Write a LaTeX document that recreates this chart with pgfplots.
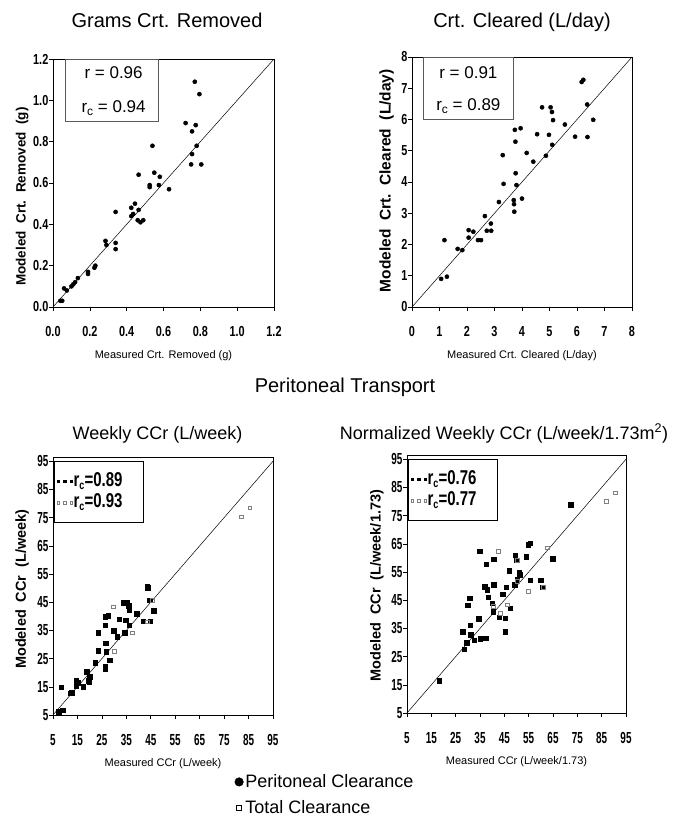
\documentclass[border=0pt]{standalone}
\usepackage{fontspec}
\setmainfont{Liberation Sans}
\newfontfamily\narrowfont[FakeStretch=0.75]{Liberation Sans}
\newfontfamily\narrowerfont[FakeStretch=0.62]{Liberation Sans}
\usepackage{pgfplots}
\pgfplotsset{compat=1.18}

\newcommand{\fs}[1]{\fontsize{#1}{#1}\selectfont}
\newcommand{\rc}{r\raisebox{-0.3ex}{\fs{12}c}}
\newcommand{\lent}[1]{\makebox[66pt][l]{#1}}

\pgfplotsset{
  panel/.style={
    scale only axis,
    clip=false,
    axis line style={black, line width=0.6pt},
    tick pos=left, tick align=outside,
    major tick length=4pt,
    every tick/.style={black, line width=0.6pt},
    /pgf/number format/assume math mode=true,
    ticklabel style={font=\narrowfont\bfseries\fs{14.5}},
    xticklabel style={yshift=-12pt},
    yticklabel style={inner xsep=0.5pt},
    title style={font=\fs{20}, anchor=base},
    xlabel style={font=\fs{11}, at={(axis description cs:0.5,0)}, anchor=base, yshift=-51pt},
    ylabel style={font=\bfseries\fs{14.5}, anchor=center},
  },
  lower/.style={
    panel,
    xmin=5, xmax=95, ymin=5, ymax=96.5,
    xtick={5,15,...,95}, ytick={5,15,...,95},
    ticklabel style={font=\narrowerfont\bfseries\fs{16}},
    xticklabel style={yshift=0pt},
    title style={font=\fs{18}},
    legend cell align=left,
    legend style={anchor=north west, draw=black, line width=0.8pt,
      font=\narrowfont\bfseries\fs{20}, inner xsep=3pt, inner ysep=11pt,
      row sep=3pt,
      nodes={inner xsep=1pt, inner ysep=1pt, text height=13pt, text depth=3pt}},
    legend image code/.code={%
      \draw[##1, mark size=1.3pt] plot coordinates {(0pt,0pt) (6.5pt,0pt) (13pt,0pt)};},
  },
  dots/.style={only marks, mark=*, mark size=2.1pt, black},
  fsq/.style={only marks, mark=square*, mark size=2.2pt, black},
  osq/.style={only marks, mark=square, mark size=1.9pt, gray, mark options={line width=0.5pt}},
  ident/.style={black, line width=0.5pt, forget plot},
}

\begin{document}
\begin{tikzpicture}
\useasboundingbox (0,0) rectangle (680pt,-820pt);

% ---- Grams Crt. Removed
\begin{axis}[panel,
  at={(53pt,-307pt)}, anchor=south west, width=221pt, height=248pt,
  xmin=0, xmax=1.2, ymin=0, ymax=1.2,
  xtick={0,0.2,...,1.2}, ytick={0,0.2,...,1.2},
  /pgf/number format/.cd, fixed, fixed zerofill, precision=1, /pgfplots/.cd,
  title={Grams Crt. Removed},
  title style={at={(axis description cs:0.516,1)}, yshift=26pt},
  xlabel={Measured Crt. Removed (g)},
  ylabel={Modeled\ \ Crt.\ \ Removed\ \ (g)},
  ylabel style={at={(axis description cs:-0.14,0.445)}, font=\bfseries\fs{13.5}},
]
\addplot[ident] coordinates {(0,0) (1.2,1.2)};
\addplot[dots] coordinates {
 (0.04,0.03) (0.05,0.03) (0.06,0.09) (0.075,0.08) (0.10,0.10) (0.11,0.11)
 (0.12,0.12) (0.135,0.14) (0.19,0.16) (0.19,0.17) (0.225,0.19) (0.23,0.20)
 (0.285,0.32) (0.29,0.30) (0.34,0.31) (0.34,0.28) (0.34,0.46) (0.425,0.44)
 (0.425,0.48) (0.435,0.45) (0.445,0.50) (0.465,0.47) (0.465,0.64) (0.46,0.42)
 (0.475,0.41) (0.49,0.42) (0.525,0.59) (0.525,0.58) (0.54,0.78) (0.55,0.65)
 (0.575,0.59) (0.58,0.63) (0.63,0.57) (0.72,0.89) (0.755,0.85) (0.775,0.88)
 (0.77,1.09) (0.795,1.03) (0.755,0.74) (0.78,0.78) (0.75,0.69) (0.805,0.69)
};
\draw[gray!70!black, line width=1pt] (axis cs:0.067,1.2) rectangle (axis cs:0.573,0.898);
\node[font=\fs{17}] at (axis cs:0.329,1.132) {r = 0.96};
\node[font=\fs{17}] at (axis cs:0.329,0.962) {\rc\ = 0.94};
\end{axis}

% ---- Crt. Cleared (L/day)
\begin{axis}[panel,
  at={(412pt,-307pt)}, anchor=south west, width=220pt, height=250pt,
  xmin=0, xmax=8, ymin=0, ymax=8,
  xtick={0,1,...,8}, ytick={0,1,...,8},
  title={Crt. Cleared (L/day)},
  title style={at={(axis description cs:0.5,1)}, yshift=24pt},
  xlabel={Measured Crt. Cleared (L/day)},
  ylabel={Modeled\ \ Crt.\ \ Cleared\ \ (L/day)},
  ylabel style={at={(axis description cs:-0.115,0.505)}, font=\bfseries\fs{15.5}},
]
\addplot[ident] coordinates {(0,0) (8,8)};
\addplot[dots] coordinates {
 (1.06,0.90) (1.18,2.14) (1.27,0.97) (1.66,1.86) (1.83,1.82) (2.06,2.46)
 (2.06,2.22) (2.23,2.41) (2.40,2.14) (2.51,2.14) (2.65,2.91) (2.72,2.44)
 (2.87,2.67) (2.88,2.44) (3.16,3.36) (3.30,4.86) (3.33,3.94) (3.70,3.42)
 (3.71,3.29) (3.72,3.05) (3.74,5.67) (3.76,5.29) (3.77,4.28) (3.80,3.90)
 (3.95,5.72) (4.00,3.47) (4.17,4.93) (4.41,4.65) (4.55,5.53) (4.73,6.39)
 (4.87,4.84) (4.98,5.51) (5.04,6.39) (5.09,6.24) (5.10,5.19) (5.13,5.98)
 (5.56,5.84) (5.93,5.45) (6.17,7.20) (6.23,7.27) (6.37,6.48) (6.38,5.44)
 (6.59,5.99)
};
\draw[gray!70!black, line width=1pt] (axis cs:0.40,7.97) rectangle (axis cs:3.70,5.99);
\node[font=\fs{17}] at (axis cs:2.05,7.49) {r = 0.91};
\node[font=\fs{17}] at (axis cs:2.05,6.42) {\rc\ = 0.89};
\end{axis}

\node[font=\fs{20}, anchor=base] at (345pt,-392pt) {Peritoneal Transport};

% ---- Weekly CCr (L/week)
\begin{axis}[lower,
  at={(53pt,-715pt)}, anchor=south west, width=220pt, height=258pt,
  title={Weekly CCr (L/week)},
  title style={at={(axis description cs:0.475,1)}, yshift=12pt},
  xlabel={Measured CCr (L/week)},
  ylabel={Modeled\ \ CCr\ \ (L/week)},
  ylabel style={at={(axis description cs:-0.14,0.488)}},
  legend style={at={(axis description cs:0.003,0.984)}},
]
\addplot[ident] coordinates {(5,5) (95,95)};
\addplot[fsq] coordinates {
 (7.3,6.2) (8.9,6.8) (8.3,14.8) (12.1,12.7) (12.6,12.9) (14.5,15.3)
 (14.5,17.2) (15.4,16.5) (17.3,15.0) (18.8,20.4) (19.6,17.2) (20.0,18.6)
 (19.9,16.8) (22.3,23.5) (23.4,27.8) (23.4,34.2) (26.4,22.1) (26.4,21.2)
 (26.4,36.9) (26.4,39.8) (26.5,30.4) (26.8,27.4) (27.6,40.2) (28.2,24.5)
 (29.8,34.9) (31.2,32.8) (32.1,38.9) (33.6,44.9) (34.3,34.2) (34.8,38.7)
 (35.4,45.0) (35.9,43.7) (36.1,42.2) (36.2,36.8) (39.2,41.0) (41.8,38.3)
 (43.5,50.7) (43.8,50.2) (44.6,45.7) (44.8,38.3) (46.2,42.0)
};
\addlegendentry{\lent{\rc=0.89}}
\addplot[osq] coordinates {
 (29.8,43.4) (30.2,27.6) (37.3,34.2) (43.5,38.1) (45.6,45.7) (81.9,75.3)
 (85.5,78.5)
};
\addlegendentry{\lent{\rc=0.93}}
\end{axis}

% ---- Normalized Weekly CCr (L/week/1.73m2)
\begin{axis}[lower,
  at={(407pt,-713pt)}, anchor=south west, width=219pt, height=258pt,
  title={Normalized Weekly CCr (L/week/1.73m\textsuperscript{2})},
  title style={at={(axis description cs:0.443,1)}, yshift=10pt},
  xlabel={Measured CCr (L/week/1.73)},
  ylabel={Modeled\ \ CCr\ \ (L/week/1.73)},
  ylabel style={at={(axis description cs:-0.137,0.493)}},
  legend style={at={(axis description cs:0.003,0.984)}},
]
\addplot[ident] coordinates {(5,5) (95,95)};
\addplot[fsq] coordinates {
 (18.2,16.5) (27.9,33.9) (28.6,27.6) (29.5,30.0) (30.0,43.2) (30.7,45.8)
 (31.0,36.1) (31.1,32.8) (32.5,30.9) (34.4,38.5) (34.9,62.4) (35.2,31.4)
 (36.9,49.8) (37.4,31.5) (37.5,57.7) (38.0,48.8) (38.4,46.0) (40.0,43.9)
 (40.4,41.0) (40.6,50.5) (40.7,59.5) (42.9,38.9) (44.3,47.2) (45.3,38.6)
 (45.3,33.9) (45.7,49.6) (47.0,55.4) (47.4,42.2) (49.2,50.5) (49.5,60.9)
 (49.8,59.1) (50.3,52.3) (51.2,54.9) (51.3,54.1) (54.1,60.4) (54.9,64.7)
 (55.6,65.3) (55.7,52.2) (60.0,52.1) (60.8,49.6) (64.9,59.7) (72.3,78.9)
};
\addlegendentry{\lent{\rc=0.76}}
\addplot[osq] coordinates {
 (42.4,62.4) (40.5,43.0) (43.2,40.3) (46.2,43.4) (50.3,59.1) (50.3,51.6)
 (54.7,48.2) (61.1,49.5) (62.7,63.6) (86.8,80.1) (90.5,83.1)
};
\addlegendentry{\lent{\rc=0.77}}
\end{axis}

% ---- shared legend
\begin{axis}[hide axis, scale only axis,
  at={(0pt,-820pt)}, anchor=south west, width=680pt, height=820pt,
  xmin=0, xmax=1, ymin=0, ymax=1,
  legend cell align=left,
  legend style={at={(axis description cs:0.345,0.058)}, anchor=north west,
    draw=none, font=\fs{18}, row sep=7pt, inner sep=0pt},
  legend image code/.code={\draw[#1] plot coordinates {(0pt,0pt)};},
]
\addlegendimage{only marks, mark=*, mark size=4.3pt, black}
\addlegendentry{Peritoneal Clearance}
\addlegendimage{only marks, mark=square, mark size=2.5pt, black, mark options={line width=0.6pt}}
\addlegendentry{Total Clearance}
\end{axis}
\end{tikzpicture}
\end{document}
